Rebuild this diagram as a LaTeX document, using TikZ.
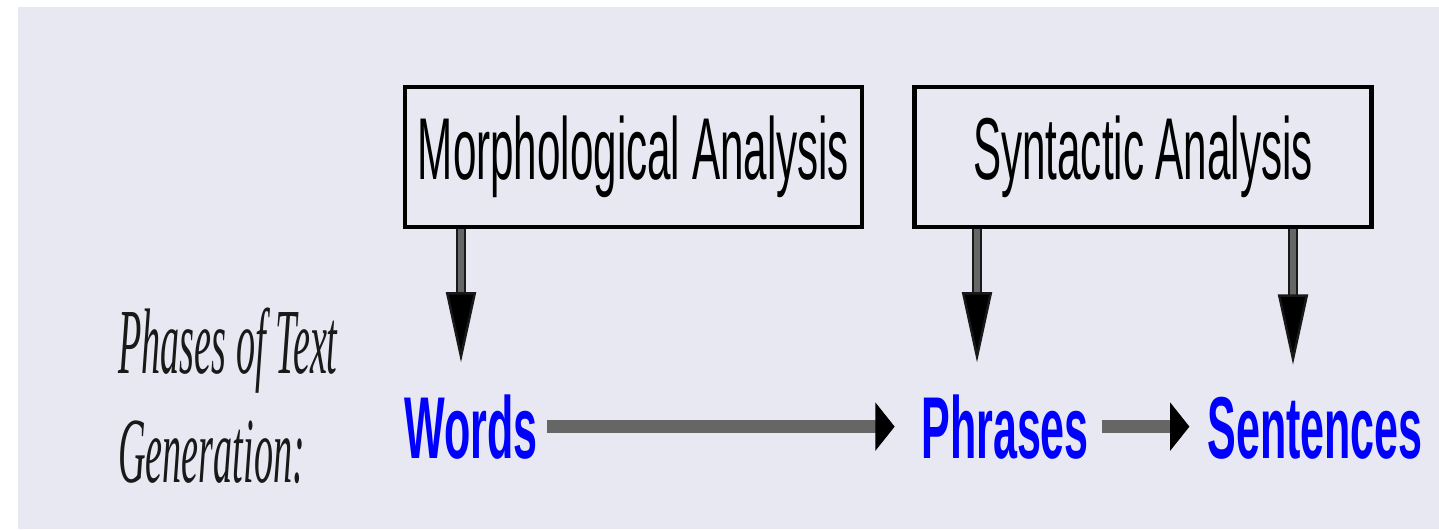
\documentclass[tikz,border=0pt]{standalone}
\usepackage{fontspec}
\usetikzlibrary{arrows.meta,positioning}
\newfontfamily\boxfont[FakeStretch=0.48]{Liberation Sans}
\newfontfamily\unitfont[FakeStretch=0.49]{Liberation Sans}
\newfontfamily\phasefont[FakeStretch=0.41]{Liberation Serif}
\definecolor{panelbg}{RGB}{232,232,242}
\definecolor{unitblue}{RGB}{0,0,255}

\begin{document}
\begin{tikzpicture}[x=0.02cm, y=-0.02cm,
    stage/.style={rectangle, draw=black, line width=2.5pt, fill=panelbg, minimum width=9.14cm, minimum height=2.8cm, inner sep=0pt, font=\boxfont\fontsize{50}{60}\selectfont},
    unit/.style={inner sep=0pt, anchor=base west, text=unitblue, font=\unitfont\bfseries\fontsize{50}{60}\selectfont},
    phase/.style={inner sep=0pt, anchor=west, align=left, text=black!90, font=\phasefont\itshape\fontsize{53}{62}\selectfont},
    feed/.style={draw=black!90, double=black!60, line width=1.4pt, double distance=3pt, -{Triangle[length=40pt,width=17pt,fill=black]}, shorten >=18pt},
    nextstep/.style={draw=black!60, line width=7.5pt, -{Triangle[length=11pt,width=27pt,color=black]}}]

    \useasboundingbox (0,0) rectangle (1439,529);
    \fill[white] (0,0) rectangle (1439,529);
    \fill[panelbg] (18,7) rectangle (1439,529);

    \node [stage] (morph) at (633.5,157) {Morphological Analysis};
    \node [stage] (syntax) at (1143,157) {Syntactic Analysis};

    \node [phase] (phases) at (118,396) {Phases of Text\\Generation:};
    \node [unit] (words) at (404,458) {Words};
    \node [unit] (phrases) at (921,458) {Phrases};
    \node [unit] (sentences) at (1207,458) {Sentences};

    \coordinate (tapw) at (461,0);
    \coordinate (tapp) at (977,0);
    \coordinate (taps) at (1293,0);

    \draw[feed] (morph.south -| tapw) -- (words.north -| tapw);
    \draw[feed] (syntax.south -| tapp) -- (phrases.north -| tapp);
    \draw[feed] (syntax.south -| taps) -- (sentences.north -| taps);

    \draw[nextstep, shorten <=5pt, shorten >=15pt] (words.east) -- (words.east -| phrases.west);
    \draw[nextstep, shorten <=7pt, shorten >=10pt] (phrases.east) -- (phrases.east -| sentences.west);
\end{tikzpicture}
\end{document}
